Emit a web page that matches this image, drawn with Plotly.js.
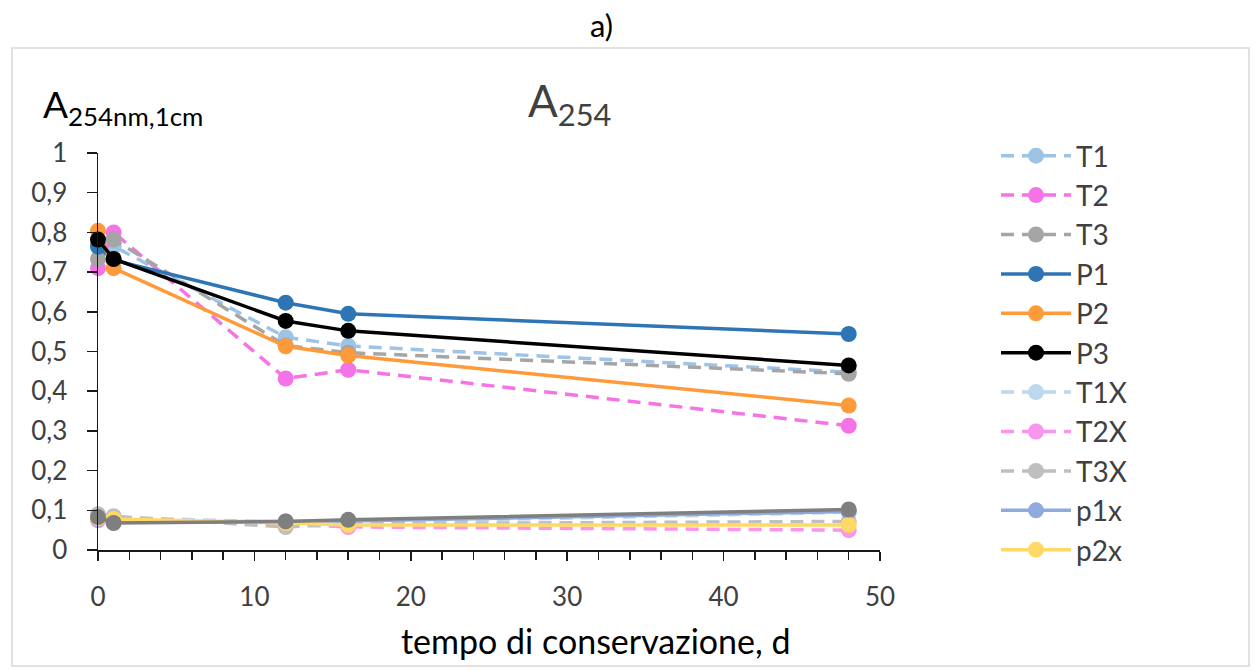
<!DOCTYPE html>
<html>
<head>
<meta charset="utf-8">
<script src="https://cdn.plot.ly/plotly-3.0.1.min.js"></script>
<style>
  html, body { margin: 0; padding: 0; background: #ffffff; }
  #chart { width: 1257px; height: 671px; }
</style>
</head>
<body>
<div id="chart"></div>
<script>
// ---- data ----
const days = [0, 1, 12, 16, 48];

const T1  = [0.770, 0.765, 0.536, 0.514, 0.448];
const T2  = [0.710, 0.800, 0.432, 0.454, 0.313];
const T3  = [0.733, 0.782, 0.515, 0.497, 0.444];
const P1  = [0.764, 0.730, 0.623, 0.595, 0.544];
const P2  = [0.804, 0.710, 0.513, 0.490, 0.364];
const P3  = [0.782, 0.733, 0.577, 0.552, 0.465];
const T1X = [0.080, 0.082, 0.070, 0.069, 0.095];
const T2X = [0.075, 0.080, 0.065, 0.058, 0.050];
const T3X = [0.090, 0.085, 0.058, 0.066, 0.072];
const p1x = [0.078, 0.070, 0.072, 0.073, 0.097];
const p2x = [0.080, 0.078, 0.068, 0.063, 0.063];
const p3x = [0.083, 0.068, 0.072, 0.076, 0.102];

const seriesNames = ["T1", "T2", "T3", "P1", "P2", "P3", "T1X", "T2X", "T3X", "p1x", "p2x", "p3x"];
const seriesValues = [T1, T2, T3, P1, P2, P3, T1X, T2X, T3X, p1x, p2x, p3x];
const seriesColors = ["#9DC3E6", "#F573E6", "#A5A5A5", "#2E75B6", "#FF9A3A", "#000000",
                      "#BDD7EE", "#F995EC", "#BFBFBF", "#8FAADC", "#FFD966", "#7F7F7F"];
const seriesDashed = [true, true, true, false, false, false, true, true, true, false, false, false];
const seriesInLegend = [true, true, true, true, true, true, true, true, true, true, true, false];

const xTitle = "tempo di conservazione, d";
const yLabel = "A<sub>254nm,1cm</sub>";
const chartTitle = "A<sub>254</sub>";
const panelLabel = "a)";

// ---- geometry helpers (pixel -> paper) ----
const W = 1257, H = 671;
const L = 98, R = 880, T = 153, B = 550;
const px = x => (x - L) / (R - L);
const py = y => (B - y) / (B - T);

const FONT = "Lato, 'Open Sans', sans-serif";

const traces = seriesNames.map((n, i) => ({
  type: "scatter",
  mode: "lines+markers",
  name: n,
  x: days,
  y: seriesValues[i],
  showlegend: seriesInLegend[i],
  legendgroup: n,
  cliponaxis: false,
  line: { color: seriesColors[i], width: 3.5, dash: seriesDashed[i] ? "13px,8px" : "solid" },
  marker: { color: seriesColors[i], size: 16, symbol: "circle" }
}));

const layout = {
  width: W, height: H,
  paper_bgcolor: "#ffffff",
  plot_bgcolor: "#ffffff",
  separators: ",.",
  font: { family: FONT, color: "#404040", size: 26 },
  margin: { l: L, r: W - R, t: T, b: H - B, pad: 0 },
  showlegend: true,
  legend: {
    x: px(996), xanchor: "left",
    y: py(131), yanchor: "top",
    font: { family: FONT, size: 28, color: "#404040" },
    itemwidth: 70,
    tracegroupgap: 0,
    maxheight: 640,
    bgcolor: "rgba(0,0,0,0)"
  },
  xaxis: {
    range: [0, 50],
    dtick: 10,
    tick0: 0,
    showgrid: false,
    zeroline: false,
    showline: true,
    linecolor: "#1a1a1a",
    linewidth: 1.5,
    ticks: "outside",
    ticklen: 9,
    tickwidth: 1.5,
    tickcolor: "#1a1a1a",
    ticklabelstandoff: 14,
    tickfont: { family: FONT, size: 26, color: "#404040" },
    minor: { dtick: 2, ticks: "outside", ticklen: 8, tickwidth: 1.5, tickcolor: "#1a1a1a", showgrid: false },
    fixedrange: true
  },
  yaxis: {
    range: [0, 1],
    dtick: 0.1,
    tick0: 0,
    showgrid: false,
    zeroline: false,
    showline: true,
    linecolor: "#1a1a1a",
    linewidth: 1.5,
    ticks: "outside",
    ticklen: 10,
    tickwidth: 1.5,
    tickcolor: "#1a1a1a",
    ticklabelstandoff: 14,
    tickfont: { family: FONT, size: 26, color: "#404040" },
    fixedrange: true
  },
  shapes: [{
    type: "rect", xref: "paper", yref: "paper",
    x0: px(12), x1: px(1249), y0: py(666), y1: py(48),
    line: { color: "#D9D9D9", width: 1.5 },
    fillcolor: "rgba(0,0,0,0)",
    layer: "below"
  }],
  annotations: [
    { text: panelLabel, xref: "paper", yref: "paper", x: px(601), y: py(25),
      xanchor: "center", yanchor: "middle", showarrow: false,
      font: { family: FONT, size: 31, color: "#000000" } },
    { text: chartTitle, xref: "paper", yref: "paper", x: px(569), y: py(104),
      xanchor: "center", yanchor: "middle", showarrow: false,
      font: { family: FONT, size: 44, color: "#404040" } },
    { text: yLabel, xref: "paper", yref: "paper", x: px(41), y: py(107),
      xanchor: "left", yanchor: "middle", showarrow: false,
      font: { family: FONT, size: 37, color: "#000000" } },
    { text: xTitle, xref: "paper", yref: "paper", x: px(595), y: py(640),
      xanchor: "center", yanchor: "middle", showarrow: false,
      font: { family: FONT, size: 34, color: "#000000" } }
  ]
};

Plotly.newPlot("chart", traces, layout, { staticPlot: true, displayModeBar: false });
</script>
</body>
</html>
